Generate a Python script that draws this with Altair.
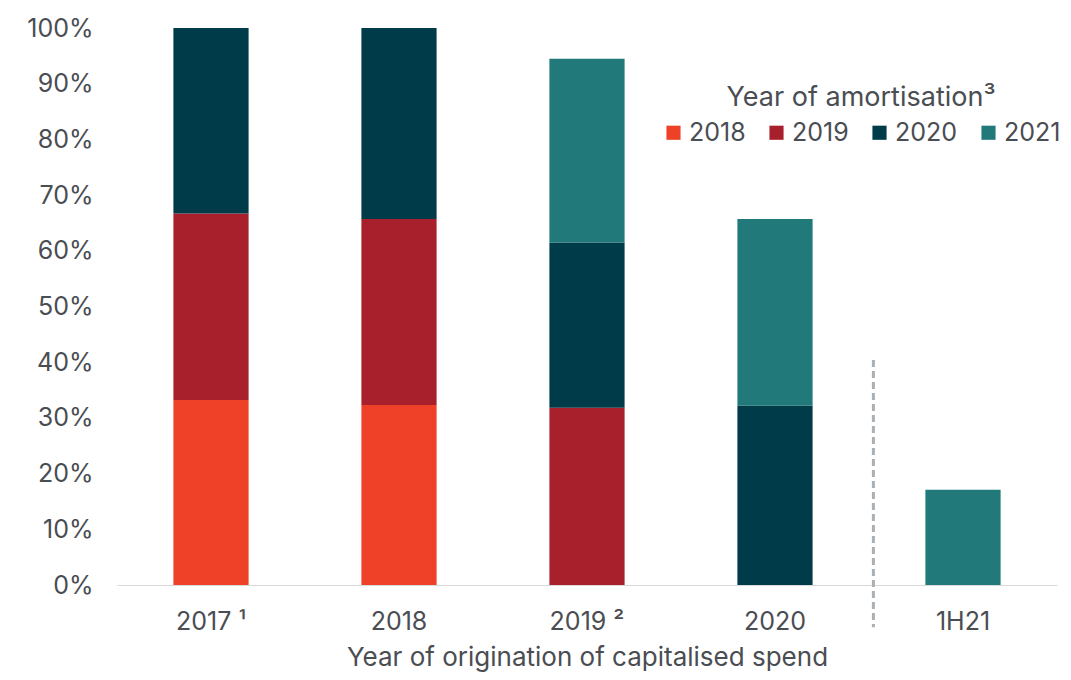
import altair as alt
import pandas as pd

origins = ["2017", "2018", "2019", "2020", "1H21"]
origin_labels = ["2017 ¹", "2018", "2019 ²", "2020", "1H21"]
amort_years = ["2018", "2019", "2020", "2021"]
colors = ["#EF4128", "#A8202C", "#003B4A", "#21797A"]

s2018 = [33.2, 32.3, 0, 0, 0]
s2019 = [33.5, 33.4, 31.8, 0, 0]
s2020 = [33.3, 34.3, 29.7, 32.2, 0]
s2021 = [0, 0, 33.0, 33.5, 17.1]

series = {"2018": s2018, "2019": s2019, "2020": s2020, "2021": s2021}
rows = []
for k, yr in enumerate(amort_years):
    for i, o in enumerate(origins):
        v = series[yr][i]
        if v > 0:
            rows.append({"origin": o, "amort": yr, "value": v / 100, "ord": k})
df = pd.DataFrame(rows)

# divider between 2020 and 1H21
divider = pd.DataFrame({"origin": ["1H21"], "y": [0.404], "y2": [-0.076]})

FONT = "Inter"
TXT = "#4A4D52"

label_expr = "{" + ",".join(f"'{o}':'{l}'" for o, l in zip(origins, origin_labels)) + "}[datum.value]"

xscale = alt.Scale(domain=origins, paddingInner=0.6, paddingOuter=0.3)
yscale = alt.Scale(domain=[0, 1])

bars = alt.Chart(df).mark_bar().encode(
    x=alt.X("origin:N", scale=xscale, sort=origins,
            axis=alt.Axis(title="Year of origination of capitalised spend",
                          labelExpr=label_expr, labelAngle=0, ticks=False,
                          domainColor="#D9D9D9", labelPadding=24,
                          titlePadding=10)),
    y=alt.Y("value:Q", stack="zero", scale=yscale,
            axis=alt.Axis(format=".0%", values=[i / 10 for i in range(11)],
                          domain=False, ticks=False, grid=False,
                          labelPadding=24, title=None)),
    color=alt.Color("amort:N", scale=alt.Scale(domain=amort_years, range=colors),
                    legend=alt.Legend(title="Year of amortisation³", orient="none",
                                      legendX=544, legendY=57, direction="horizontal",
                                      columns=4, symbolType="square", symbolSize=200,
                                      titleAnchor="middle", titleFontSize=27,
                                      titleFontWeight="normal", titleColor=TXT,
                                      titleLimit=400,
                                      labelFontSize=25, labelColor=TXT,
                                      columnPadding=18, labelOffset=3,
                                      titlePadding=8)),
    order=alt.Order("ord:Q"),
)

rule = alt.Chart(divider).mark_rule(color="#A9B1B5", strokeDash=[7, 4], strokeWidth=3).encode(
    x=alt.X("origin:N", scale=xscale, sort=origins, bandPosition=0),
    xOffset=alt.value(-52),
    y=alt.Y("y:Q", scale=yscale),
    y2="y2:Q",
)

chart = alt.layer(bars, rule).properties(
    width=940, height=557,
    autosize=alt.AutoSizeParams(type="none"),
    padding={"left": 109, "top": 20, "right": 6, "bottom": 87},
).configure_view(stroke=None).configure_axis(
    labelFont=FONT, titleFont=FONT, labelFontSize=25, titleFontSize=26,
    labelColor=TXT, titleColor=TXT, titleFontWeight="normal", grid=False,
).configure_legend(labelFont=FONT, titleFont=FONT)

chart.save("out.html", embed_options={"renderer": "svg", "actions": False})
